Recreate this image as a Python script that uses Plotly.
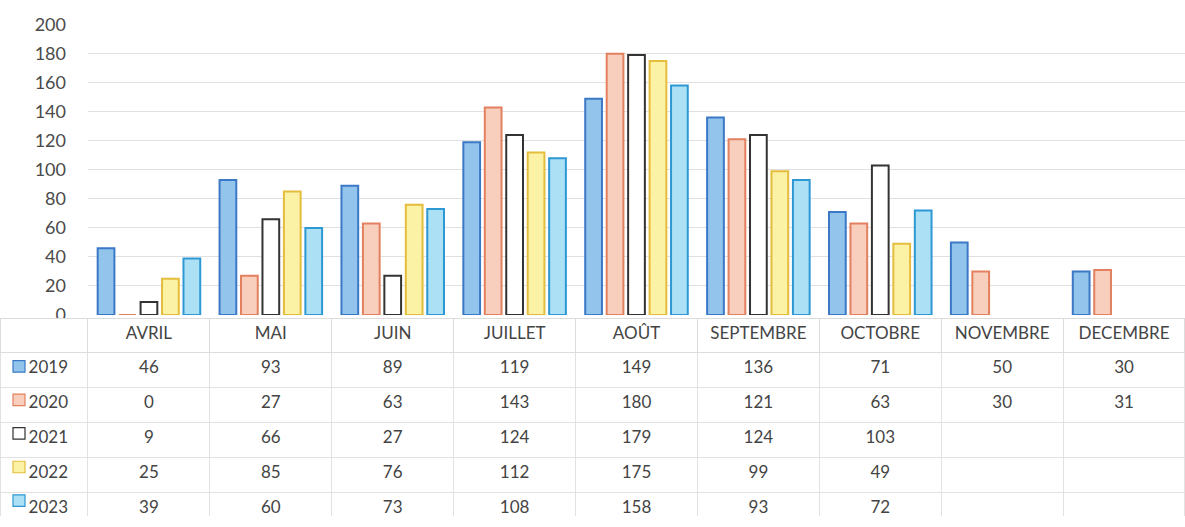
import plotly.graph_objects as go

months = ["AVRIL", "MAI", "JUIN", "JUILLET", "AOÛT", "SEPTEMBRE", "OCTOBRE", "NOVEMBRE", "DECEMBRE"]
years = ["2019", "2020", "2021", "2022", "2023"]
v2019 = [46, 93, 89, 119, 149, 136, 71, 50, 30]
v2020 = [0, 27, 63, 143, 180, 121, 63, 30, 31]
v2021 = [9, 66, 27, 124, 179, 124, 103, None, None]
v2022 = [25, 85, 76, 112, 175, 99, 49, None, None]
v2023 = [39, 60, 73, 108, 158, 93, 72, None, None]
series = [v2019, v2020, v2021, v2022, v2023]

# fill / outline per year (gradients of the original approximated by flat fills)
fills = ["#93c5ec", "#f8cfbc", "#ffffff", "#fbf2a6", "#ace0f5"]
lines = ["#3b78c6", "#e2805f", "#333333", "#e4bd3c", "#2e98d4"]

W, H = 1185, 527
x0 = 88 / W
HEAD_H, ROW_H = 34, 35
TABLE_TOP = 0.394
FONT = "Lato, Open Sans, sans-serif"

fig = go.Figure()
for yr, vals, fc, lc in zip(years, series, fills, lines):
    fig.add_trace(
        go.Bar(
            x=months,
            y=vals,
            name=yr,
            marker=dict(color=fc, line=dict(color=lc, width=2)),
        )
    )


def cell(v):
    return "" if v is None else str(v)


cols = [["  " + y for y in years]] + [[cell(s[i]) for s in series] for i in range(len(months))]

fig.add_trace(
    go.Table(
        domain=dict(x=[0, 1], y=[0, TABLE_TOP]),
        columnwidth=[88] + [121.9] * len(months),
        header=dict(
            values=[""] + months,
            height=HEAD_H,
            align="center",
            fill_color="white",
            line=dict(color="#dcdcdc", width=1),
            font=dict(family=FONT, size=17, color="#444"),
        ),
        cells=dict(
            values=cols,
            height=ROW_H,
            align="center",
            fill_color="white",
            line=dict(color="#e2e2e2", width=1),
            font=dict(family=FONT, size=17, color="#444"),
        ),
    )
)

# legend swatches in the first table column
for i, (fc, lc) in enumerate(zip(fills, lines)):
    yc = TABLE_TOP - (HEAD_H + ROW_H * (i + 0.5)) / H + 0.002
    fig.add_shape(
        type="rect",
        xref="paper",
        yref="paper",
        x0=13 / W,
        x1=25 / W,
        y0=yc - 6 / H,
        y1=yc + 6 / H,
        fillcolor=fc,
        line=dict(color=lc, width=1.2),
        layer="above",
    )

fig.update_layout(
    width=W,
    height=H,
    template="plotly_white",
    showlegend=False,
    barmode="group",
    bargap=0.12,
    bargroupgap=0.22,
    margin=dict(l=0, r=0, t=0, b=0),
    font=dict(family=FONT, size=17, color="#555"),
    xaxis=dict(
        domain=[x0, 1],
        anchor="y",
        showticklabels=False,
        showgrid=False,
        zeroline=False,
        showline=False,
    ),
    yaxis=dict(
        domain=[0.400, 0.975],
        range=[0, 200],
        dtick=20,
        showgrid=True,
        gridcolor="#e0e0e0",
        zeroline=False,
        ticklabelstandoff=21,
        tickfont=dict(size=18, color="#4a4a4a"),
    ),
    plot_bgcolor="white",
    paper_bgcolor="white",
)

fig.write_html(
    "out.html",
    config={"displayModeBar": False},
    post_script=(
        "document.body.style.margin='0';document.body.style.overflow='hidden';"
        "document.head.insertAdjacentHTML('beforeend',"
        "'<style>.scrollbar-kit{display:none}</style>');"
    ),
)
